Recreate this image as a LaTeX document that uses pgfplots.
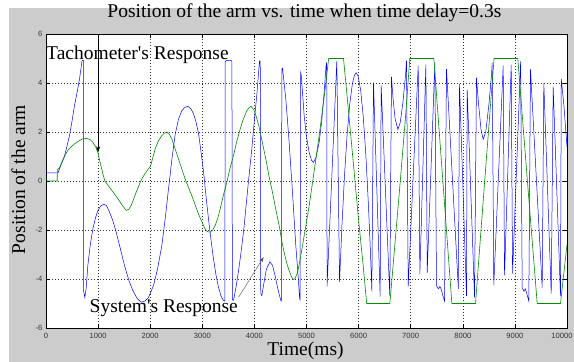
\documentclass[border=0pt]{standalone}
\usepackage{fontspec}
\setmainfont{Liberation Serif}
\newfontfamily\ticksfont{Liberation Sans}
\usepackage{pgfplots}
\pgfplotsset{compat=1.18}
\usetikzlibrary{arrows.meta}
\definecolor{figgray}{RGB}{204,204,204}
\definecolor{mgreen}{RGB}{0,140,0}
\definecolor{mblue}{RGB}{0,0,255}
\pgfplotstableread{
x y
0 0.33
230 0.33
260 0.50
300 0.72
355 1.01
400 1.40
451 1.85
500 2.45
547 3.08
600 3.65
643 4.16
690 4.88
700 4.92
718 4.92
722 -4.50
745 -4.75
770 -4.40
803 -3.45
850 -2.60
899 -1.96
950 -1.50
995 -1.21
1050 -1.02
1110 -0.95
1160 -1.00
1219 -1.27
1280 -1.60
1347 -2.09
1420 -2.70
1507 -3.45
1590 -4.05
1667 -4.47
1750 -4.80
1827 -4.95
1900 -4.90
1967 -4.75
2063 -4.27
2140 -3.60
2223 -2.64
2290 -1.50
2351 -0.33
2420 0.95
2479 1.90
2540 2.50
2607 2.87
2660 3.00
2722 3.05
2780 2.95
2831 2.75
2880 2.40
2927 1.95
2975 1.20
3023 0.40
3070 -0.60
3119 -1.55
3170 -2.45
3215 -3.18
3260 -3.80
3311 -4.34
3360 -4.70
3407 -4.88
3432 -4.90
3440 4.85
3460 4.92
3550 4.92
3568 4.88
3578 -4.85
3600 -4.87
3650 -4.30
3700 -3.60
3750 -2.80
3800 -1.90
3850 -0.80
3887 0.00
3950 1.30
4000 2.50
4050 3.60
4098 4.90
4112 4.90
4122 -4.60
4143 -4.68
4180 -4.20
4230 -3.60
4296 -3.30
4350 -3.45
4400 -3.90
4460 -4.50
4508 -4.88
4518 -4.90
4527 4.57
4540 4.60
4603 3.35
4667 1.58
4731 -0.46
4795 -2.64
4840 -3.90
4868 -4.80
4878 -4.85
4885 4.44
4900 4.30
4955 2.67
5000 1.80
5051 1.17
5095 0.85
5134 0.76
5180 0.95
5243 1.58
5290 2.40
5339 3.62
5375 4.70
5388 4.84
5395 -4.30
5582 4.90
5634 -4.12
5680 -1.84
5730 0.24
5780 1.90
5830 3.14
5880 3.96
5920 4.32
5954 4.42
5990 4.29
6040 3.70
6090 2.61
6140 1.03
6190 -1.04
6230 -3.04
6254 -4.50
6286 4.02
6414 -4.72
6433 3.90
6599 -4.70
6631 4.25
6660 3.40
6700 2.55
6755 2.10
6800 2.40
6850 3.20
6900 4.30
6920 4.91
6952 -4.30
7144 4.71
7176 -3.80
7291 4.75
7317 -3.75
7464 4.85
7495 -4.27
7530 -4.40
7560 -4.30
7590 -4.45
7620 -4.70
7650 -4.90
7687 4.57
7915 -4.40
7937 3.95
8071 -4.69
8084 3.74
8225 -4.75
8263 4.22
8300 3.20
8350 2.10
8391 1.70
8440 2.00
8500 3.10
8550 4.30
8564 4.83
8595 -4.25
8775 4.72
8801 -3.85
8929 4.75
8955 -3.78
9110 4.88
9140 -4.35
9175 -4.50
9200 -4.40
9230 -4.60
9267 -4.90
9299 4.56
9524 -4.35
9555 4.00
9697 -4.60
9735 3.85
9875 -4.70
9890 4.16
9940 3.10
10000 1.40
}\tach
\pgfplotstableread{
x y
0 0
215 0
218 0.45
260 0.55
300 0.75
355 1.01
420 1.25
483 1.40
550 1.52
611 1.61
700 1.72
771 1.74
840 1.70
899 1.58
950 1.40
995 1.17
1040 0.75
1091 0.30
1130 0.00
1251 -0.35
1379 -0.72
1460 -0.98
1539 -1.20
1590 -1.15
1635 -1.00
1731 -0.46
1827 0.04
1900 0.30
1967 0.50
2006 0.60
2095 1.31
2160 1.65
2223 1.85
2270 1.95
2319 2.00
2370 1.90
2415 1.72
2480 1.30
2543 0.90
2671 0.08
2799 -0.60
2927 -1.35
3000 -1.70
3055 -1.96
3100 -2.07
3151 -2.09
3200 -2.00
3247 -1.82
3300 -1.50
3343 -1.14
3400 -0.62
3471 -0.05
3530 0.50
3599 1.04
3660 1.60
3727 2.12
3790 2.55
3855 2.87
3900 3.00
3938 3.05
3990 2.90
4040 2.60
4091 2.20
4150 1.60
4219 0.90
4280 0.20
4347 -0.46
4410 -1.15
4475 -1.82
4530 -2.50
4571 -2.91
4620 -3.35
4667 -3.66
4710 -3.90
4744 -4.03
4780 -3.98
4827 -3.74
4870 -3.30
4923 -2.64
4990 -1.80
5051 -1.01
5120 0.00
5180 0.90
5240 1.80
5307 2.90
5370 3.95
5425 5.00
5710 5.00
5800 3.00
5900 0.70
6000 -1.60
6090 -3.50
6155 -5.00
6600 -5.00
6700 -2.50
6800 0.00
6900 2.60
6983 5.00
7444 5.00
7600 0.50
7790 -5.00
8244 -5.00
8420 0.00
8600 5.00
9056 5.00
9240 0.00
9428 -5.00
9875 -5.00
10000 -2.60
}\sysresp
\begin{document}
\begin{tikzpicture}[x=1pt,y=1pt]
\useasboundingbox (0,0) rectangle (574,362);
\fill[white] (0,0) rectangle (574,362);
\fill[figgray] (9,0) rectangle (574,354);
\begin{axis}[
  at={(46pt,34pt)}, anchor=south west,
  width=521pt, height=294pt, scale only axis,
  xmin=0, xmax=10000, ymin=-6, ymax=6,
  scaled x ticks=false, scaled y ticks=false,
  axis background/.style={fill=white},
  xtick={0,1000,...,10000},
  xticklabels={0,1000,2000,3000,4000,5000,6000,7000,8000,9000,\hspace*{-10pt}10000},
  ytick={-6,-4,...,6},
  yticklabels={-6,-4,-2,0,2,4,6},
  tick align=inside,
  major tick length=4pt,
  grid=major,
  major grid style={black!80, line width=0.5pt, dash pattern=on 1pt off 2pt},
  axis line style={black, line width=0.6pt},
  tick style={black, line width=0.5pt},
  tick label style={font=\ticksfont\fontsize{7.6}{8}\selectfont, text=black!80, inner sep=0pt},
  xticklabel style={yshift=-5pt},
  yticklabel style={xshift=-3.5pt},
  title={Position of the arm vs. time when time delay=0.3s},
  title style={font=\fontsize{19.5}{22}\selectfont, at={(axis description cs:0.496,1.0364)}, anchor=base, inner sep=0pt},
  xlabel={Time(ms)},
  xlabel style={font=\fontsize{19.5}{22}\selectfont, at={(axis description cs:0.498,-0.0952)}, anchor=base, inner sep=0pt},
  ylabel={Position of the arm},
  ylabel style={font=\fontsize{19.5}{22}\selectfont, at={(axis description cs:-0.0403,0.505)}, anchor=base, inner sep=0pt},
]
\addplot[mblue, line width=0.5pt] table[x=x,y=y] {\tach};
\addplot[mgreen, line width=0.6pt] table[x=x,y=y] {\sysresp};
\node[anchor=base west, inner sep=0pt, font=\fontsize{19.5}{22}\selectfont] at (axis cs:0,4.96) {Tachometer\textquotesingle s Response};
\node[anchor=base west, inner sep=0pt, font=\fontsize{19.5}{22}\selectfont] at (axis cs:835,-5.35) {System\textquotesingle s Response};
\draw[black, line width=0.5pt, -{Stealth[length=6pt,width=4pt]}] (axis cs:1000,6) -- (axis cs:1000,1.17);
\draw[black!70, line width=0.4pt, -{Stealth[length=5pt,width=3.5pt]}] (axis cs:3695,-4.75) -- (axis cs:4175,-3.11);
\end{axis}
\end{tikzpicture}
\end{document}
